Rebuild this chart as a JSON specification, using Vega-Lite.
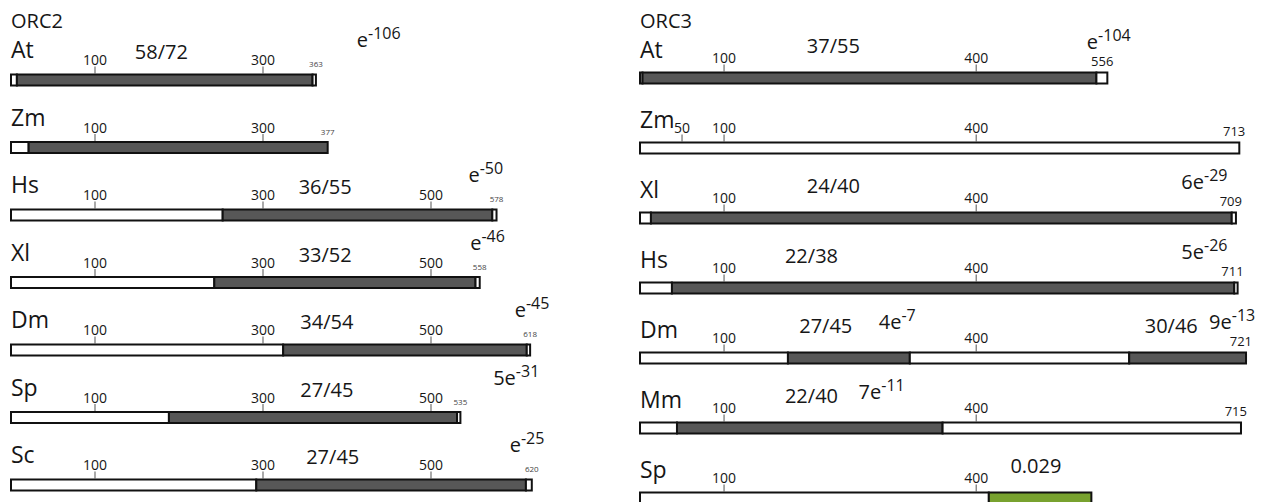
{
  "$schema": "https://vega.github.io/schema/vega-lite/v6.json",
  "padding": {"left": 10, "top": 0, "right": 0, "bottom": 0},
  "background": "white",
  "bounds": "flush",
  "spacing": 41,
  "config": {"view": {"stroke": null}, "text": {"font": "Open Sans", "color": "#161616"}},
  "datasets": {
    "segments": [
      {"panel": "ORC2", "species": "At", "start": 0, "end": 7, "kind": "plain"},
      {"panel": "ORC2", "species": "At", "start": 7, "end": 359, "kind": "conserved"},
      {"panel": "ORC2", "species": "At", "start": 359, "end": 363, "kind": "plain"},
      {"panel": "ORC2", "species": "Zm", "start": 0, "end": 21, "kind": "plain"},
      {"panel": "ORC2", "species": "Zm", "start": 21, "end": 377, "kind": "conserved"},
      {"panel": "ORC2", "species": "Hs", "start": 0, "end": 252, "kind": "plain"},
      {"panel": "ORC2", "species": "Hs", "start": 252, "end": 573, "kind": "conserved"},
      {"panel": "ORC2", "species": "Hs", "start": 573, "end": 578, "kind": "plain"},
      {"panel": "ORC2", "species": "Xl", "start": 0, "end": 242, "kind": "plain"},
      {"panel": "ORC2", "species": "Xl", "start": 242, "end": 553, "kind": "conserved"},
      {"panel": "ORC2", "species": "Xl", "start": 553, "end": 558, "kind": "plain"},
      {"panel": "ORC2", "species": "Dm", "start": 0, "end": 324, "kind": "plain"},
      {"panel": "ORC2", "species": "Dm", "start": 324, "end": 614, "kind": "conserved"},
      {"panel": "ORC2", "species": "Dm", "start": 614, "end": 618, "kind": "plain"},
      {"panel": "ORC2", "species": "Sp", "start": 0, "end": 188, "kind": "plain"},
      {"panel": "ORC2", "species": "Sp", "start": 188, "end": 531, "kind": "conserved"},
      {"panel": "ORC2", "species": "Sp", "start": 531, "end": 535, "kind": "plain"},
      {"panel": "ORC2", "species": "Sc", "start": 0, "end": 292, "kind": "plain"},
      {"panel": "ORC2", "species": "Sc", "start": 292, "end": 613, "kind": "conserved"},
      {"panel": "ORC2", "species": "Sc", "start": 613, "end": 620, "kind": "plain"},
      {"panel": "ORC3", "species": "At", "start": 0, "end": 3, "kind": "plain"},
      {"panel": "ORC3", "species": "At", "start": 3, "end": 543, "kind": "conserved"},
      {"panel": "ORC3", "species": "At", "start": 543, "end": 556, "kind": "plain"},
      {"panel": "ORC3", "species": "Zm", "start": 0, "end": 713, "kind": "plain"},
      {"panel": "ORC3", "species": "Xl", "start": 0, "end": 13, "kind": "plain"},
      {"panel": "ORC3", "species": "Xl", "start": 13, "end": 704, "kind": "conserved"},
      {"panel": "ORC3", "species": "Xl", "start": 704, "end": 709, "kind": "plain"},
      {"panel": "ORC3", "species": "Hs", "start": 0, "end": 38, "kind": "plain"},
      {"panel": "ORC3", "species": "Hs", "start": 38, "end": 707, "kind": "conserved"},
      {"panel": "ORC3", "species": "Hs", "start": 707, "end": 711, "kind": "plain"},
      {"panel": "ORC3", "species": "Dm", "start": 0, "end": 176, "kind": "plain"},
      {"panel": "ORC3", "species": "Dm", "start": 176, "end": 321, "kind": "conserved"},
      {"panel": "ORC3", "species": "Dm", "start": 321, "end": 582, "kind": "plain"},
      {"panel": "ORC3", "species": "Dm", "start": 582, "end": 721, "kind": "conserved"},
      {"panel": "ORC3", "species": "Mm", "start": 0, "end": 44, "kind": "plain"},
      {"panel": "ORC3", "species": "Mm", "start": 44, "end": 360, "kind": "conserved"},
      {"panel": "ORC3", "species": "Mm", "start": 360, "end": 715, "kind": "plain"},
      {"panel": "ORC3", "species": "Sp", "start": 0, "end": 415, "kind": "plain"},
      {"panel": "ORC3", "species": "Sp", "start": 415, "end": 537, "kind": "weak"}
    ],
    "ticks": [
      {"panel": "ORC2", "species": "At", "pos": 100}, {"panel": "ORC2", "species": "At", "pos": 300},
      {"panel": "ORC2", "species": "Zm", "pos": 100}, {"panel": "ORC2", "species": "Zm", "pos": 300},
      {"panel": "ORC2", "species": "Hs", "pos": 100}, {"panel": "ORC2", "species": "Hs", "pos": 300}, {"panel": "ORC2", "species": "Hs", "pos": 500},
      {"panel": "ORC2", "species": "Xl", "pos": 100}, {"panel": "ORC2", "species": "Xl", "pos": 300}, {"panel": "ORC2", "species": "Xl", "pos": 500},
      {"panel": "ORC2", "species": "Dm", "pos": 100}, {"panel": "ORC2", "species": "Dm", "pos": 300}, {"panel": "ORC2", "species": "Dm", "pos": 500},
      {"panel": "ORC2", "species": "Sp", "pos": 100}, {"panel": "ORC2", "species": "Sp", "pos": 300}, {"panel": "ORC2", "species": "Sp", "pos": 500},
      {"panel": "ORC2", "species": "Sc", "pos": 100}, {"panel": "ORC2", "species": "Sc", "pos": 300}, {"panel": "ORC2", "species": "Sc", "pos": 500},
      {"panel": "ORC3", "species": "At", "pos": 100}, {"panel": "ORC3", "species": "At", "pos": 400},
      {"panel": "ORC3", "species": "Zm", "pos": 50}, {"panel": "ORC3", "species": "Zm", "pos": 100}, {"panel": "ORC3", "species": "Zm", "pos": 400},
      {"panel": "ORC3", "species": "Xl", "pos": 100}, {"panel": "ORC3", "species": "Xl", "pos": 400},
      {"panel": "ORC3", "species": "Hs", "pos": 100}, {"panel": "ORC3", "species": "Hs", "pos": 400},
      {"panel": "ORC3", "species": "Dm", "pos": 100}, {"panel": "ORC3", "species": "Dm", "pos": 400},
      {"panel": "ORC3", "species": "Mm", "pos": 100}, {"panel": "ORC3", "species": "Mm", "pos": 400},
      {"panel": "ORC3", "species": "Sp", "pos": 100}, {"panel": "ORC3", "species": "Sp", "pos": 400}
    ],
    "labels": [
      {"panel": "ORC2", "species": "At", "kind": "header", "pos": 0, "text": "ORC2"},
      {"panel": "ORC2", "species": "At", "kind": "species", "pos": 0, "text": "At"},
      {"panel": "ORC2", "species": "Zm", "kind": "species", "pos": 0, "text": "Zm"},
      {"panel": "ORC2", "species": "Hs", "kind": "species", "pos": 0, "text": "Hs"},
      {"panel": "ORC2", "species": "Xl", "kind": "species", "pos": 0, "text": "Xl"},
      {"panel": "ORC2", "species": "Dm", "kind": "species", "pos": 0, "text": "Dm"},
      {"panel": "ORC2", "species": "Sp", "kind": "species", "pos": 0, "text": "Sp"},
      {"panel": "ORC2", "species": "Sc", "kind": "species", "pos": 0, "text": "Sc"},
      {"panel": "ORC2", "species": "At", "kind": "ratio", "pos": 179, "text": "58/72"},
      {"panel": "ORC2", "species": "Hs", "kind": "ratio", "pos": 374, "text": "36/55"},
      {"panel": "ORC2", "species": "Xl", "kind": "ratio", "pos": 374, "text": "33/52"},
      {"panel": "ORC2", "species": "Dm", "kind": "ratio", "pos": 376, "text": "34/54"},
      {"panel": "ORC2", "species": "Sp", "kind": "ratio", "pos": 376, "text": "27/45"},
      {"panel": "ORC2", "species": "Sc", "kind": "ratio", "pos": 383, "text": "27/45"},
      {"panel": "ORC2", "species": "At", "kind": "ebase", "pos": 425, "text": "e"},
      {"panel": "ORC2", "species": "At", "kind": "eexp", "pos": 425, "text": "-106"},
      {"panel": "ORC2", "species": "Hs", "kind": "ebase", "pos": 558, "text": "e"},
      {"panel": "ORC2", "species": "Hs", "kind": "eexp", "pos": 558, "text": "-50"},
      {"panel": "ORC2", "species": "Xl", "kind": "ebase", "pos": 560, "text": "e"},
      {"panel": "ORC2", "species": "Xl", "kind": "eexp", "pos": 560, "text": "-46"},
      {"panel": "ORC2", "species": "Dm", "kind": "ebase", "pos": 613, "text": "e"},
      {"panel": "ORC2", "species": "Dm", "kind": "eexp", "pos": 613, "text": "-45"},
      {"panel": "ORC2", "species": "Sp", "kind": "ebase", "pos": 601, "text": "5e"},
      {"panel": "ORC2", "species": "Sp", "kind": "eexp", "pos": 601, "text": "-31"},
      {"panel": "ORC2", "species": "Sc", "kind": "ebase", "pos": 607, "text": "e"},
      {"panel": "ORC2", "species": "Sc", "kind": "eexp", "pos": 607, "text": "-25"},
      {"panel": "ORC2", "species": "At", "kind": "end", "pos": 363, "text": "363"},
      {"panel": "ORC2", "species": "Zm", "kind": "end", "pos": 377, "text": "377"},
      {"panel": "ORC2", "species": "Hs", "kind": "end", "pos": 578, "text": "578"},
      {"panel": "ORC2", "species": "Xl", "kind": "end", "pos": 558, "text": "558"},
      {"panel": "ORC2", "species": "Dm", "kind": "end", "pos": 618, "text": "618"},
      {"panel": "ORC2", "species": "Sp", "kind": "end", "pos": 535, "text": "535"},
      {"panel": "ORC2", "species": "Sc", "kind": "end", "pos": 620, "text": "620"},
      {"panel": "ORC3", "species": "At", "kind": "header", "pos": 0, "text": "ORC3"},
      {"panel": "ORC3", "species": "At", "kind": "species", "pos": 0, "text": "At"},
      {"panel": "ORC3", "species": "Zm", "kind": "species", "pos": 0, "text": "Zm"},
      {"panel": "ORC3", "species": "Xl", "kind": "species", "pos": 0, "text": "Xl"},
      {"panel": "ORC3", "species": "Hs", "kind": "species", "pos": 0, "text": "Hs"},
      {"panel": "ORC3", "species": "Dm", "kind": "species", "pos": 0, "text": "Dm"},
      {"panel": "ORC3", "species": "Mm", "kind": "species", "pos": 0, "text": "Mm"},
      {"panel": "ORC3", "species": "Sp", "kind": "species", "pos": 0, "text": "Sp"},
      {"panel": "ORC3", "species": "At", "kind": "ratio", "pos": 230, "text": "37/55"},
      {"panel": "ORC3", "species": "Xl", "kind": "ratio", "pos": 230, "text": "24/40"},
      {"panel": "ORC3", "species": "Hs", "kind": "ratio", "pos": 204, "text": "22/38"},
      {"panel": "ORC3", "species": "Dm", "kind": "ratio", "pos": 221, "text": "27/45"},
      {"panel": "ORC3", "species": "Dm", "kind": "ratio", "pos": 632, "text": "30/46"},
      {"panel": "ORC3", "species": "Mm", "kind": "ratio", "pos": 204, "text": "22/40"},
      {"panel": "ORC3", "species": "Sp", "kind": "ratio", "pos": 471, "text": "0.029"},
      {"panel": "ORC3", "species": "At", "kind": "ebase", "pos": 545, "text": "e"},
      {"panel": "ORC3", "species": "At", "kind": "eexp", "pos": 545, "text": "-104"},
      {"panel": "ORC3", "species": "Xl", "kind": "ebase", "pos": 671, "text": "6e"},
      {"panel": "ORC3", "species": "Xl", "kind": "eexp", "pos": 671, "text": "-29"},
      {"panel": "ORC3", "species": "Hs", "kind": "ebase", "pos": 671, "text": "5e"},
      {"panel": "ORC3", "species": "Hs", "kind": "eexp", "pos": 671, "text": "-26"},
      {"panel": "ORC3", "species": "Dm", "kind": "ebase", "pos": 311, "text": "4e"},
      {"panel": "ORC3", "species": "Dm", "kind": "eexp", "pos": 311, "text": "-7"},
      {"panel": "ORC3", "species": "Dm", "kind": "ebase", "pos": 704, "text": "9e"},
      {"panel": "ORC3", "species": "Dm", "kind": "eexp", "pos": 704, "text": "-13"},
      {"panel": "ORC3", "species": "Mm", "kind": "ebase", "pos": 287, "text": "7e"},
      {"panel": "ORC3", "species": "Mm", "kind": "eexp", "pos": 287, "text": "-11"},
      {"panel": "ORC3", "species": "At", "kind": "end", "pos": 556, "text": "556"},
      {"panel": "ORC3", "species": "Zm", "kind": "end", "pos": 713, "text": "713"},
      {"panel": "ORC3", "species": "Xl", "kind": "end", "pos": 709, "text": "709"},
      {"panel": "ORC3", "species": "Hs", "kind": "end", "pos": 711, "text": "711"},
      {"panel": "ORC3", "species": "Dm", "kind": "end", "pos": 721, "text": "721"},
      {"panel": "ORC3", "species": "Mm", "kind": "end", "pos": 715, "text": "715"}
    ]
  },
  "hconcat": [
    {
      "width": 588,
      "height": 485,
      "layer": [
        {
          "data": {"name": "segments"},
          "transform": [{"filter": "datum.panel == 'ORC2'"}],
          "mark": {"type": "bar", "size": 11, "stroke": "#111111", "strokeWidth": 2},
          "encoding": {
            "x": {"field": "start", "type": "quantitative", "scale": {"domain": [0, 700], "nice": false}, "axis": null},
            "x2": {"field": "end"},
            "y": {"field": "species", "type": "nominal", "scale": {"type": "point", "padding": 0, "domain": ["At", "Zm", "Hs", "Xl", "Dm", "Sp", "Sc"], "range": [80, 485]}, "axis": null},
            "fill": {"field": "kind", "type": "nominal", "scale": {"domain": ["plain", "conserved", "weak"], "range": ["#ffffff", "#575757", "#78a22f"]}, "legend": null}
          }
        },
        {
          "data": {"name": "ticks"},
          "transform": [{"filter": "datum.panel == 'ORC2'"}],
          "mark": {"type": "tick", "orient": "vertical", "size": 7, "thickness": 1.2, "yOffset": -10, "color": "#333333"},
          "encoding": {
            "x": {"field": "pos", "type": "quantitative", "scale": {"domain": [0, 700], "nice": false}, "axis": null},
            "y": {"field": "species", "type": "nominal", "scale": {"type": "point", "padding": 0, "domain": ["At", "Zm", "Hs", "Xl", "Dm", "Sp", "Sc"], "range": [80, 485]}, "axis": null}
          }
        },
        {
          "data": {"name": "ticks"},
          "transform": [{"filter": "datum.panel == 'ORC2'"}],
          "mark": {"type": "text", "fontSize": 14, "align": "center", "baseline": "alphabetic", "dy": -15},
          "encoding": {
            "x": {"field": "pos", "type": "quantitative", "scale": {"domain": [0, 700], "nice": false}, "axis": null},
            "y": {"field": "species", "type": "nominal", "scale": {"type": "point", "padding": 0, "domain": ["At", "Zm", "Hs", "Xl", "Dm", "Sp", "Sc"], "range": [80, 485]}, "axis": null},
            "text": {"field": "pos", "type": "quantitative", "format": "d"}
          }
        },
        {
          "data": {"name": "labels"},
          "transform": [{"filter": "datum.panel == 'ORC2' && datum.kind == 'header'"}],
          "mark": {"type": "text", "fontSize": 20, "align": "left", "baseline": "alphabetic", "dy": -52},
          "encoding": {
            "x": {"field": "pos", "type": "quantitative", "scale": {"domain": [0, 700], "nice": false}, "axis": null},
            "y": {"field": "species", "type": "nominal", "scale": {"type": "point", "padding": 0, "domain": ["At", "Zm", "Hs", "Xl", "Dm", "Sp", "Sc"], "range": [80, 485]}, "axis": null},
            "text": {"field": "text"}
          }
        },
        {
          "data": {"name": "labels"},
          "transform": [{"filter": "datum.panel == 'ORC2' && datum.kind == 'species'"}],
          "mark": {"type": "text", "fontSize": 23, "align": "left", "baseline": "alphabetic", "dy": -22},
          "encoding": {
            "x": {"field": "pos", "type": "quantitative", "scale": {"domain": [0, 700], "nice": false}, "axis": null},
            "y": {"field": "species", "type": "nominal", "scale": {"type": "point", "padding": 0, "domain": ["At", "Zm", "Hs", "Xl", "Dm", "Sp", "Sc"], "range": [80, 485]}, "axis": null},
            "text": {"field": "text"}
          }
        },
        {
          "data": {"name": "labels"},
          "transform": [{"filter": "datum.panel == 'ORC2' && datum.kind == 'ratio'"}],
          "mark": {"type": "text", "fontSize": 20, "align": "center", "baseline": "alphabetic", "dy": -21},
          "encoding": {
            "x": {"field": "pos", "type": "quantitative", "scale": {"domain": [0, 700], "nice": false}, "axis": null},
            "y": {"field": "species", "type": "nominal", "scale": {"type": "point", "padding": 0, "domain": ["At", "Zm", "Hs", "Xl", "Dm", "Sp", "Sc"], "range": [80, 485]}, "axis": null},
            "text": {"field": "text"}
          }
        },
        {
          "data": {"name": "labels"},
          "transform": [{"filter": "datum.panel == 'ORC2' && datum.kind == 'ebase'"}],
          "mark": {"type": "text", "fontSize": 20, "align": "right", "baseline": "alphabetic", "dy": -33},
          "encoding": {
            "x": {"field": "pos", "type": "quantitative", "scale": {"domain": [0, 700], "nice": false}, "axis": null},
            "y": {"field": "species", "type": "nominal", "scale": {"type": "point", "padding": 0, "domain": ["At", "Zm", "Hs", "Xl", "Dm", "Sp", "Sc"], "range": [80, 485]}, "axis": null},
            "text": {"field": "text"}
          }
        },
        {
          "data": {"name": "labels"},
          "transform": [{"filter": "datum.panel == 'ORC2' && datum.kind == 'eexp'"}],
          "mark": {"type": "text", "fontSize": 16, "align": "left", "baseline": "alphabetic", "dy": -41},
          "encoding": {
            "x": {"field": "pos", "type": "quantitative", "scale": {"domain": [0, 700], "nice": false}, "axis": null},
            "y": {"field": "species", "type": "nominal", "scale": {"type": "point", "padding": 0, "domain": ["At", "Zm", "Hs", "Xl", "Dm", "Sp", "Sc"], "range": [80, 485]}, "axis": null},
            "text": {"field": "text"}
          }
        },
        {
          "data": {"name": "labels"},
          "transform": [{"filter": "datum.panel == 'ORC2' && datum.kind == 'end'"}],
          "mark": {"type": "text", "fontSize": 8, "align": "center", "baseline": "alphabetic", "dy": -13, "color": "#444444"},
          "encoding": {
            "x": {"field": "pos", "type": "quantitative", "scale": {"domain": [0, 700], "nice": false}, "axis": null},
            "y": {"field": "species", "type": "nominal", "scale": {"type": "point", "padding": 0, "domain": ["At", "Zm", "Hs", "Xl", "Dm", "Sp", "Sc"], "range": [80, 485]}, "axis": null},
            "text": {"field": "text"}
          }
        }
      ]
    },
    {
      "width": 622,
      "height": 485,
      "layer": [
        {
          "data": {"name": "segments"},
          "transform": [{"filter": "datum.panel == 'ORC3'"}],
          "mark": {"type": "bar", "size": 11, "stroke": "#111111", "strokeWidth": 2},
          "encoding": {
            "x": {"field": "start", "type": "quantitative", "scale": {"domain": [0, 740], "nice": false}, "axis": null},
            "x2": {"field": "end"},
            "y": {"field": "species", "type": "nominal", "scale": {"type": "point", "padding": 0, "domain": ["At", "Zm", "Xl", "Hs", "Dm", "Mm", "Sp"], "range": [78, 498]}, "axis": null},
            "fill": {"field": "kind", "type": "nominal", "scale": {"domain": ["plain", "conserved", "weak"], "range": ["#ffffff", "#575757", "#78a22f"]}, "legend": null}
          }
        },
        {
          "data": {"name": "ticks"},
          "transform": [{"filter": "datum.panel == 'ORC3'"}],
          "mark": {"type": "tick", "orient": "vertical", "size": 7, "thickness": 1.2, "yOffset": -10, "color": "#333333"},
          "encoding": {
            "x": {"field": "pos", "type": "quantitative", "scale": {"domain": [0, 740], "nice": false}, "axis": null},
            "y": {"field": "species", "type": "nominal", "scale": {"type": "point", "padding": 0, "domain": ["At", "Zm", "Xl", "Hs", "Dm", "Mm", "Sp"], "range": [78, 498]}, "axis": null}
          }
        },
        {
          "data": {"name": "ticks"},
          "transform": [{"filter": "datum.panel == 'ORC3'"}],
          "mark": {"type": "text", "fontSize": 14, "align": "center", "baseline": "alphabetic", "dy": -15},
          "encoding": {
            "x": {"field": "pos", "type": "quantitative", "scale": {"domain": [0, 740], "nice": false}, "axis": null},
            "y": {"field": "species", "type": "nominal", "scale": {"type": "point", "padding": 0, "domain": ["At", "Zm", "Xl", "Hs", "Dm", "Mm", "Sp"], "range": [78, 498]}, "axis": null},
            "text": {"field": "pos", "type": "quantitative", "format": "d"}
          }
        },
        {
          "data": {"name": "labels"},
          "transform": [{"filter": "datum.panel == 'ORC3' && datum.kind == 'header'"}],
          "mark": {"type": "text", "fontSize": 20, "align": "left", "baseline": "alphabetic", "dy": -50},
          "encoding": {
            "x": {"field": "pos", "type": "quantitative", "scale": {"domain": [0, 740], "nice": false}, "axis": null},
            "y": {"field": "species", "type": "nominal", "scale": {"type": "point", "padding": 0, "domain": ["At", "Zm", "Xl", "Hs", "Dm", "Mm", "Sp"], "range": [78, 498]}, "axis": null},
            "text": {"field": "text"}
          }
        },
        {
          "data": {"name": "labels"},
          "transform": [{"filter": "datum.panel == 'ORC3' && datum.kind == 'species'"}],
          "mark": {"type": "text", "fontSize": 23, "align": "left", "baseline": "alphabetic", "dy": -20},
          "encoding": {
            "x": {"field": "pos", "type": "quantitative", "scale": {"domain": [0, 740], "nice": false}, "axis": null},
            "y": {"field": "species", "type": "nominal", "scale": {"type": "point", "padding": 0, "domain": ["At", "Zm", "Xl", "Hs", "Dm", "Mm", "Sp"], "range": [78, 498]}, "axis": null},
            "text": {"field": "text"}
          }
        },
        {
          "data": {"name": "labels"},
          "transform": [{"filter": "datum.panel == 'ORC3' && datum.kind == 'ratio'"}],
          "mark": {"type": "text", "fontSize": 20, "align": "center", "baseline": "alphabetic", "dy": -25},
          "encoding": {
            "x": {"field": "pos", "type": "quantitative", "scale": {"domain": [0, 740], "nice": false}, "axis": null},
            "y": {"field": "species", "type": "nominal", "scale": {"type": "point", "padding": 0, "domain": ["At", "Zm", "Xl", "Hs", "Dm", "Mm", "Sp"], "range": [78, 498]}, "axis": null},
            "text": {"field": "text"}
          }
        },
        {
          "data": {"name": "labels"},
          "transform": [{"filter": "datum.panel == 'ORC3' && datum.kind == 'ebase'"}],
          "mark": {"type": "text", "fontSize": 20, "align": "right", "baseline": "alphabetic", "dy": -29},
          "encoding": {
            "x": {"field": "pos", "type": "quantitative", "scale": {"domain": [0, 740], "nice": false}, "axis": null},
            "y": {"field": "species", "type": "nominal", "scale": {"type": "point", "padding": 0, "domain": ["At", "Zm", "Xl", "Hs", "Dm", "Mm", "Sp"], "range": [78, 498]}, "axis": null},
            "text": {"field": "text"}
          }
        },
        {
          "data": {"name": "labels"},
          "transform": [{"filter": "datum.panel == 'ORC3' && datum.kind == 'eexp'"}],
          "mark": {"type": "text", "fontSize": 16, "align": "left", "baseline": "alphabetic", "dy": -37},
          "encoding": {
            "x": {"field": "pos", "type": "quantitative", "scale": {"domain": [0, 740], "nice": false}, "axis": null},
            "y": {"field": "species", "type": "nominal", "scale": {"type": "point", "padding": 0, "domain": ["At", "Zm", "Xl", "Hs", "Dm", "Mm", "Sp"], "range": [78, 498]}, "axis": null},
            "text": {"field": "text"}
          }
        },
        {
          "data": {"name": "labels"},
          "transform": [{"filter": "datum.panel == 'ORC3' && datum.kind == 'end'"}],
          "mark": {"type": "text", "fontSize": 13, "align": "right", "baseline": "alphabetic", "dy": -12, "dx": 6},
          "encoding": {
            "x": {"field": "pos", "type": "quantitative", "scale": {"domain": [0, 740], "nice": false}, "axis": null},
            "y": {"field": "species", "type": "nominal", "scale": {"type": "point", "padding": 0, "domain": ["At", "Zm", "Xl", "Hs", "Dm", "Mm", "Sp"], "range": [78, 498]}, "axis": null},
            "text": {"field": "text"}
          }
        }
      ]
    }
  ]
}
